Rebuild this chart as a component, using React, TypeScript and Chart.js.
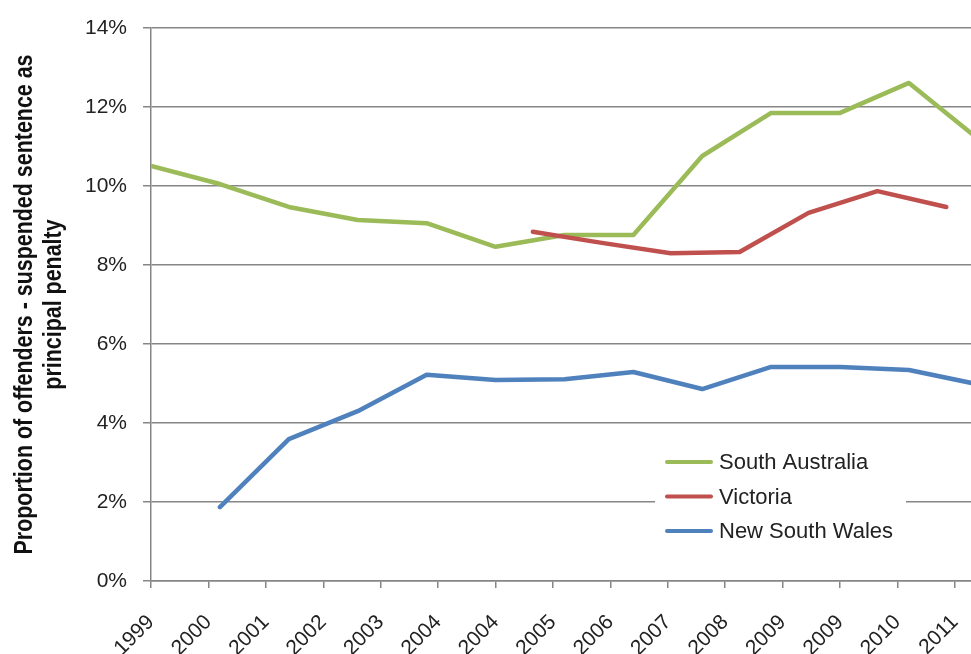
import { useEffect, useRef } from 'react';
import { Chart, registerables } from 'chart.js';

Chart.register(...registerables);

// ---- data ----
const tickLabels = ['1999', '2000', '2001', '2002', '2003', '2004', '2004', '2005', '2006', '2007', '2008', '2009', '2009', '2010', '2011'];
const seriesNames = ['South Australia', 'Victoria', 'New South Wales'];

const southAustraliaX = [0, 1.2, 2.4, 3.6, 4.8, 6.0, 7.2, 8.4, 9.6, 10.8, 12.0, 13.2, 14.4];
const southAustraliaY = [10.51, 10.05, 9.47, 9.14, 9.06, 8.46, 8.76, 8.76, 10.76, 11.85, 11.85, 12.61, 11.2];

const victoriaX = [6.65, 7.85, 9.05, 10.25, 11.45, 12.65, 13.85];
const victoriaY = [8.84, 8.56, 8.3, 8.33, 9.32, 9.87, 9.47];

const nswX = [1.2, 2.4, 3.6, 4.8, 6.0, 7.2, 8.4, 9.6, 10.8, 12.0, 13.2, 14.4];
const nswY = [1.87, 3.59, 4.3, 5.22, 5.09, 5.11, 5.29, 4.86, 5.42, 5.42, 5.34, 4.98];

const yAxisTitle = ['Proportion of offenders - suspended sentence as', 'principal penalty'];

// ---- styles ----
const GREEN = '#9BBB59';
const RED = '#C0504D';
const BLUE = '#4F81BD';
const GRID = '#868686';
const TEXT = '#222222';
const FONT = "'Liberation Sans', Arial, sans-serif";

const zip = (xs: number[], ys: number[]) => xs.map((x, i) => ({ x, y: ys[i] }));

const legendPlugin = {
  id: 'insideLegend',
  afterDatasetsDraw(chart: any) {
    const { ctx, chartArea } = chart;
    const x0 = chartArea.left + 504;
    const y0 = chartArea.top + 416;
    ctx.save();
    ctx.fillStyle = '#ffffff';
    ctx.fillRect(x0, y0, 251, 110);
    chart.data.datasets.forEach((ds: any, i: number) => {
      const y = y0 + 18 + i * 34.5;
      ctx.strokeStyle = ds.borderColor;
      ctx.lineWidth = 4;
      ctx.lineCap = 'round';
      ctx.beginPath();
      ctx.moveTo(x0 + 12, y);
      ctx.lineTo(x0 + 56, y);
      ctx.stroke();
      ctx.fillStyle = TEXT;
      ctx.font = `22px ${FONT}`;
      ctx.textBaseline = 'middle';
      ctx.textAlign = 'left';
      ctx.fillText(ds.label, x0 + 64, y + 1);
    });
    ctx.restore();
  },
};

// y-axis title drawn as two condensed lines (Calibri-like narrow bold look)
const yTitlePlugin = {
  id: 'yTitle',
  afterDraw(chart: any) {
    const { ctx, chartArea } = chart;
    const cy = (chartArea.top + chartArea.bottom) / 2;
    ctx.save();
    ctx.font = `bold 26px ${FONT}`;
    const w1 = ctx.measureText(yAxisTitle[0]).width;
    const k = 500 / w1;
    ctx.translate(0, cy);
    ctx.rotate(-Math.PI / 2);
    ctx.scale(k, 1);
    ctx.textAlign = 'center';
    ctx.textBaseline = 'alphabetic';
    ctx.fillStyle = '#111111';
    ctx.fillText(yAxisTitle[0], 0, 32);
    ctx.fillText(yAxisTitle[1], 0, 61);
    ctx.restore();
  },
};

export default function App() {
  const canvasRef = useRef<HTMLCanvasElement | null>(null);

  useEffect(() => {
    if (!canvasRef.current) return;
    const lineCommon = {
      borderWidth: 4.5,
      pointRadius: 0,
      pointHoverRadius: 0,
      tension: 0,
      borderCapStyle: 'round',
      borderJoinStyle: 'round',
      fill: false,
    };
    const chart = new Chart(canvasRef.current, {
      type: 'line',
      data: {
        datasets: [
          { ...lineCommon, label: seriesNames[0], data: zip(southAustraliaX, southAustraliaY), borderColor: GREEN, backgroundColor: GREEN, order: 1 },
          { ...lineCommon, label: seriesNames[1], data: zip(victoriaX, victoriaY), borderColor: RED, backgroundColor: RED, order: 0 },
          { ...lineCommon, label: seriesNames[2], data: zip(nswX, nswY), borderColor: BLUE, backgroundColor: BLUE, order: 2 },
        ],
      } as any,
      options: {
        animation: false,
        responsive: false,
        maintainAspectRatio: false,
        layout: { padding: { left: 0, right: 0, top: 28, bottom: 0 } },
        plugins: {
          legend: { display: false },
          tooltip: { enabled: false },
        },
        scales: {
          x: {
            type: 'linear',
            min: 0,
            max: 14.28,
            afterBuildTicks: (s: any) => {
              s.ticks = tickLabels.map((_, i) => ({ value: i }));
            },
            afterFit: (s: any) => {
              s.height = 73;
              s.paddingLeft = 0;
              s.paddingRight = 0;
            },
            ticks: {
              autoSkip: false,
              maxRotation: 45,
              minRotation: 45,
              padding: 22,
              color: TEXT,
              font: { family: FONT, size: 21 },
              callback: (v: any) => tickLabels[Math.round(Number(v))] ?? '',
            },
            grid: { drawOnChartArea: false, drawTicks: true, tickLength: 7, color: GRID, lineWidth: 1.5 },
            border: { color: GRID, width: 1.5 },
          },
          y: {
            min: 0,
            max: 14,
            afterFit: (s: any) => {
              s.width = 151;
              s.paddingTop = 0;
              s.paddingBottom = 0;
            },
            ticks: {
              stepSize: 2,
              padding: 16,
              color: TEXT,
              font: { family: FONT, size: 21 },
              callback: (v: any) => `${v}%`,
            },
            grid: { color: GRID, lineWidth: 1.5, tickLength: 8 },
            border: { color: GRID, width: 1.5 },
            title: { display: false },
          },
        },
      } as any,
      plugins: [legendPlugin, yTitlePlugin],
    });
    return () => chart.destroy();
  }, []);

  return (
    <div style={{ position: 'absolute', left: 0, top: 0, width: 971, height: 654, background: '#fff' }}>
      <canvas ref={canvasRef} width={971} height={654} style={{ display: 'block' }} />
    </div>
  );
}
